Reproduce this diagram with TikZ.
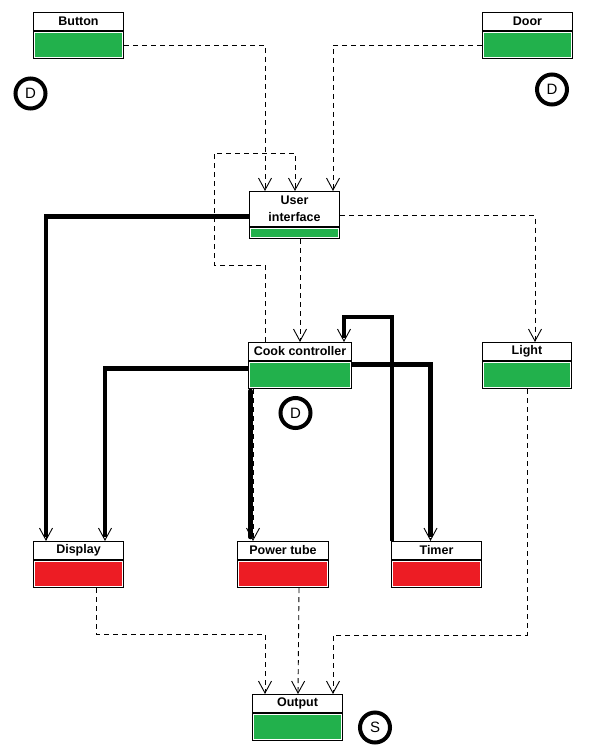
\documentclass[tikz,border=0pt]{standalone}
\usepackage{fontspec}
\setmainfont{Liberation Sans}
\usetikzlibrary{arrows.meta,backgrounds}
\definecolor{okgreen}{HTML}{22B14C}
\definecolor{failred}{HTML}{ED1C24}
\begin{document}
\begin{tikzpicture}[x=1pt,y=-1pt,
  hdr/.style={draw, fill=white, line width=1pt, inner sep=0pt, minimum width=90pt,
    minimum height=18pt, anchor=north west, align=center,
    font=\bfseries\fontsize{12.5}{17}\selectfont},
  body/.style={draw, fill=white, line width=1pt, inner sep=0pt, minimum width=90pt,
    minimum height=27pt, anchor=north west,
    path picture={\fill[#1] ([shift={(1.5pt,-1.5pt)}]path picture bounding box.north west)
      rectangle ([shift={(-1.5pt,1.5pt)}]path picture bounding box.south east);}},
  badge/.style={circle, draw, line width=4pt, minimum size=30pt, inner sep=0pt,
    font=\fontsize{15}{15}\selectfont},
  dep/.style={line width=0.9pt, dash pattern=on 5pt off 4pt,
    -{Straight Barb[length=12pt,width=13pt]}},
  heavy/.style={line width=4.5pt, shorten >=4pt}]

\useasboundingbox (0,0) rectangle (615,749);

% components: title bar on top, status bar below
\node[hdr] (btn) at (33,12) {Button};
\node[body=okgreen] (btnB) at (btn.south west) {};
\node[hdr] (door) at (482,12) {Door};
\node[body=okgreen] (doorB) at (door.south west) {};
\node[hdr, minimum height=35pt] (ui) at (249,191) {User\\interface};
\node[body=okgreen, minimum height=11pt] (uiB) at (ui.south west) {};
\node[hdr, minimum width=103pt] (cc) at (248,342) {Cook controller};
\node[body=okgreen, minimum width=103pt] (ccB) at (cc.south west) {};
\node[hdr, minimum width=89pt] (light) at (482,342) {Light};
\node[body=okgreen, minimum width=89pt] (lightB) at (light.south west) {};
\node[hdr] (disp) at (33,541) {Display};
\node[body=failred] (dispB) at (disp.south west) {};
\node[hdr, minimum width=91pt] (pt) at (237,541) {Power tube};
\node[body=failred, minimum width=91pt] (ptB) at (pt.south west) {};
\node[hdr] (timer) at (391,541) {Timer};
\node[body=failred] (timerB) at (timer.south west) {};
\node[hdr] (out) at (252,694) {Output};
\node[body=okgreen] (outB) at (out.south west) {};

% tags
\node[badge] (btnTag) at (30.5,93.5) {D};
\node[badge] (doorTag) at (552,89.5) {D};
\node[badge] (ccTag) at (295.5,413) {D};
\node[badge] (outTag) at (375,727.5) {S};

\begin{scope}[on background layer]
  % dependencies
  \draw[dep] (btnB.east) -| ([xshift=16pt]ui.north west);
  \draw[dep] (doorB.west) -| ([xshift=-7pt]ui.north east);
  \draw[dep] ([xshift=17pt]cc.north west) -- ++(0,-77) -| (214,153) -| ([xshift=46pt]ui.north west);
  \draw[dep] (cc.north |- uiB.south) -- (cc.north);
  \draw[dep] ([yshift=-6.5pt]ui.east) -| ([xshift=8pt]light.north);
  \draw[dep] (lightB.south) -- ++(0,246) -| ([xshift=-10pt]out.north east);
  \draw[dep] ([xshift=-28pt]dispB.south east) -- ++(0,46) -| ([xshift=13pt]out.north west);
  \draw[dep] ([xshift=-30pt]ptB.south east) -- ([xshift=46pt]out.north west);

  % strong dependencies
  \draw[dep] ([yshift=-7.5pt]ui.west) -| ([xshift=13pt]disp.north west);
  \draw[heavy] ([yshift=-7.5pt]ui.west) -| ([xshift=13pt]disp.north west);

  \draw[dep] ([yshift=6.5pt]ccB.west) -| ([xshift=72pt]disp.north west);
  \draw[heavy] ([yshift=6.5pt]ccB.west) -| ([xshift=72pt]disp.north west);

  \draw[dep] ([xshift=5pt]ccB.south west) -- ([xshift=16pt]pt.north west);
  \draw[heavy, line cap=round] ([xshift=2.5pt,yshift=-2pt]ccB.south west) -- ([xshift=13.5pt]pt.north west);

  \draw[dep] ([yshift=10.5pt]ccB.east) -| ([xshift=39.5pt]timer.north west);
  \draw[heavy] ([yshift=10.5pt]ccB.east) -| ([xshift=39.5pt]timer.north west);

  \draw[dep] ([xshift=1pt]timer.north west) -- ++(0,-224) -| ([xshift=-8pt]cc.north east);
  \draw[heavy] ([xshift=1pt]timer.north west) -- ++(0,-224) -| ([xshift=-8pt]cc.north east);
\end{scope}
\end{tikzpicture}
\end{document}
